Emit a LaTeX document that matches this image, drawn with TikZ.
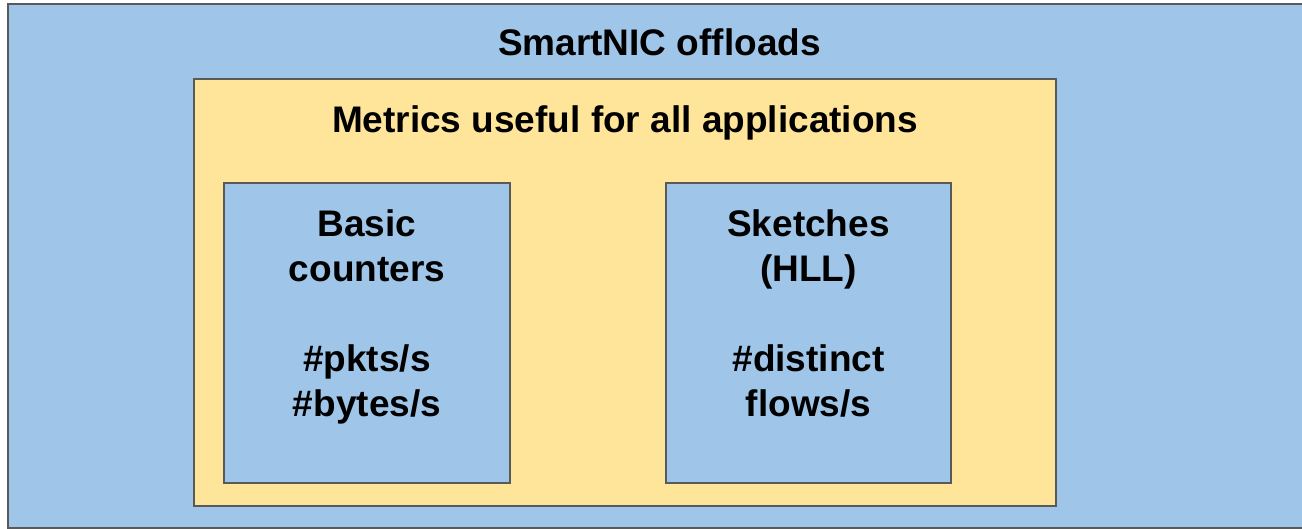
\documentclass[tikz,border=0pt]{standalone}
\usepackage{fontspec}
\setmainfont{Liberation Sans}
\definecolor{panelblue}{HTML}{9FC5E8}
\definecolor{panelyellow}{HTML}{FFE599}
\definecolor{edgegray}{HTML}{595959}
\begin{document}
\begin{tikzpicture}[x=1pt,y=1pt,
  panel/.style={draw=edgegray, line width=2pt},
  heading/.style={font=\bfseries\fontsize{37}{45}\selectfont, inner sep=0pt, anchor=base},
  boxtext/.style={font=\bfseries\fontsize{37}{45}\selectfont, inner sep=0pt, anchor=north, align=center}]
\useasboundingbox (0,0) rectangle (1302,529);
% outer region
\filldraw[panel, fill=panelblue] (8,1) rectangle (1320,525);
\node[heading] (title) at (659.5,473) {SmartNIC offloads};
% metrics region
\filldraw[panel, fill=panelyellow] (194,23) rectangle (1056,450);
\node[heading] (metrics) at (625,396) {Metrics useful for all applications};
% metric boxes
\filldraw[panel, fill=panelblue] (224,46) rectangle (510,346);
\filldraw[panel, fill=panelblue] (666,46) rectangle (951,346);
\node[boxtext] (basic) at (367,319.5) {Basic\\counters\\[45pt]\#pkts/s\\\#bytes/s};
\node[boxtext] (sketch) at (808.5,319.5) {Sketches\\(HLL)\\[45pt]\#distinct\\flows/s};
\end{tikzpicture}
\end{document}
